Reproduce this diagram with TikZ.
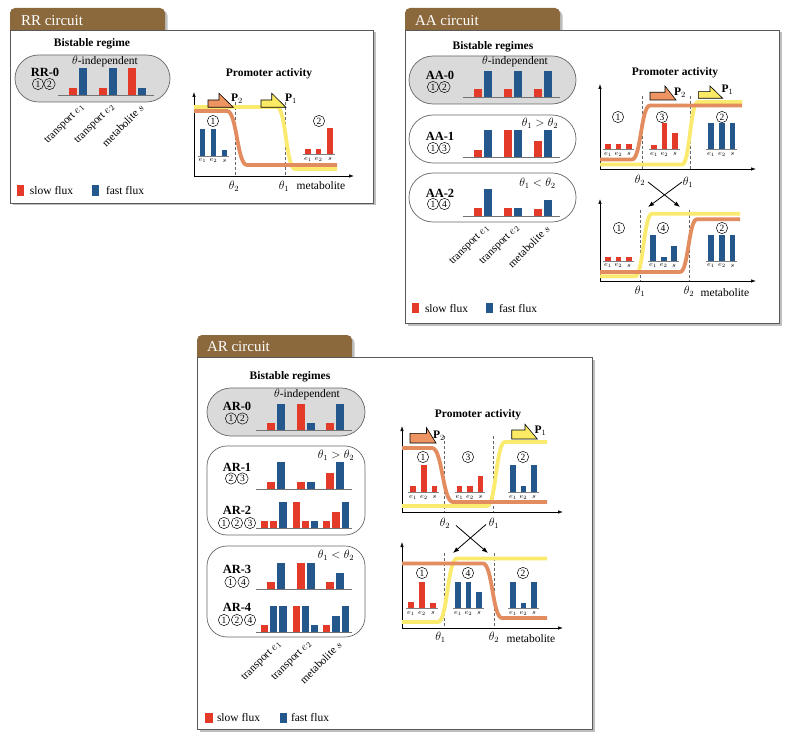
\documentclass[tikz,border=0pt]{standalone}
\usepackage{fontspec}
\setmainfont{Liberation Serif}
\usetikzlibrary{shadows,arrows.meta}
\definecolor{tabbrown}{RGB}{139,105,60}
\definecolor{barred}{RGB}{228,58,42}
\definecolor{barblue}{RGB}{36,88,140}
\definecolor{pillgray}{RGB}{218,218,218}
\definecolor{curveY}{RGB}{250,234,110}
\definecolor{curveO}{RGB}{226,140,96}
\definecolor{promO}{RGB}{238,148,98}
\definecolor{promY}{RGB}{250,234,100}
\tikzset{
 every node/.style={inner sep=0pt, outer sep=0pt},
 txt/.style={font=\fontsize{11.5}{13}\selectfont},
 btxt/.style={font=\fontsize{11.5}{13}\selectfont\bfseries},
 rtxt/.style={font=\fontsize{12.5}{14}\selectfont\bfseries},
 hdr/.style={font=\fontsize{15}{17}\selectfont, text=white, anchor=base west},
 cnum/.style={circle, draw, line width=0.5pt, minimum size=11.3pt, inner sep=0pt, font=\fontsize{9.5}{9.5}\selectfont},
 lbl/.style={font=\fontsize{7}{7}\selectfont},
 rot/.style={font=\fontsize{11}{12}\selectfont, rotate=45, anchor=east},
 shad/.style={drop shadow={shadow xshift=2.5pt, shadow yshift=-2.5pt, fill=black!55, opacity=0.45}},
 panel/.style={fill=white, draw=black!65, line width=0.8pt, shad},
 pill/.style={draw=black!60, line width=0.7pt},
 baseln/.style={draw=black!55, line width=0.6pt},
 pbase/.style={draw=black!50, line width=0.4pt},
 axis/.style={line width=0.7pt, -{Latex[length=5pt,width=3.5pt]}},
 dline/.style={dashed, dash pattern=on 3pt off 2pt, draw=black!60, line width=0.5pt},
 ycurve/.style={draw=curveY, line width=3.8pt},
 ocurve/.style={draw=curveO, line width=3.8pt},
 prom/.style={draw=black, line width=0.6pt},
 xarr/.style={line width=0.8pt, -{Latex[length=6pt,width=4.5pt]}},
}
\newcommand{\rb}[4]{\fill[barred] (#1,#3) rectangle (#2,#4);}
\newcommand{\bb}[4]{\fill[barblue] (#1,#3) rectangle (#2,#4);}
\newcommand{\plbl}[5]{\node[lbl] (#5a) at (#1,#4) {$e_1$}; \node[lbl] (#5b) at (#2,#4) {$e_2$}; \node[lbl] (#5c) at (#3,#4) {$s$};}
\begin{document}
\begin{tikzpicture}[x=1pt,y=-1pt]
\useasboundingbox (0,0) rectangle (793,746);
\fill[white] (0,0) rectangle (793,746);

% ================= RR circuit =================
\fill[tabbrown, shad] (10,30) [rounded corners=5pt] -- (10,8) -- (165,8) [sharp corners] -- (165,30) -- cycle;
\node[hdr] (rrT) at (21,25.5) {RR circuit};
\draw[panel] (10,30) rectangle (373,203);
\node[btxt] (rrBR) at (92,44) {Bistable regime};
\draw[pill, fill=pillgray, rounded corners=23.5] (15,55) rectangle (170,102);
\node[rtxt] (rr0) at (45,72) {RR-0};
\node[cnum] (rr0a) at (38,84) {1}; \node[cnum] (rr0b) at (49.5,84) {2};
\node[txt] (rrTI) at (105,61.5) {$\theta$-independent};
\draw[baseln] (58,95) -- (154,95);
\rb{69}{77}{88}{95} \bb{79}{87}{68}{95}
\rb{99}{107}{88}{95} \bb{109}{117}{68}{95}
\rb{128}{136}{68}{95} \bb{138}{146}{88}{95}
\node[rot] (rrL1) at (83,106) {transport $e_1$};
\node[rot] (rrL2) at (113,106) {transport $e_2$};
\node[rot] (rrL3) at (142,106) {metabolite $s$};
\fill[barred] (17,185) rectangle (24,196); \node[txt, anchor=west] (rrS) at (30,191) {slow flux};
\fill[barblue] (92,185) rectangle (99,196); \node[txt, anchor=west] (rrF) at (106,191) {fast flux};
% plot
\node[btxt] (rrPA) at (269,74) {Promoter activity};
\draw[dline] (235,102) -- (235,176); \draw[dline] (285,102) -- (285,176);
\draw[axis] (194,176) -- (194,92); \draw[axis] (194,176) -- (354,176);
\draw[ycurve] (194,107) -- (277,107) .. controls (286,107) and (286,169) .. (295,169) -- (337,169);
\draw[ocurve] (194,111) -- (227,111) .. controls (237,111) and (237,165) .. (247,165) -- (337,165);
\filldraw[prom, fill=promO] (208,100) -- (219,100) -- (219,93.3) -- (233.3,107.3) -- (208,107.3) -- cycle;
\node[btxt, anchor=west] (rrP2) at (231,98.5) {P$_2$};
\filldraw[prom, fill=promY] (261,100) -- (271.7,100) -- (271.7,93.3) -- (286,107.3) -- (261,107.3) -- cycle;
\node[btxt, anchor=west] (rrP1) at (285,98.5) {P$_1$};
\node[cnum] (rrS1) at (213,121) {1};
\bb{200}{205}{129}{156} \bb{211}{216}{129}{156} \bb{222}{227}{150}{156}
\draw[pbase] (198,156) -- (229,156);
\plbl{202.5}{213.5}{224.5}{160.5}{rrA}
\node[cnum] (rrS2) at (319,121) {2};
\rb{305.3}{310.7}{149}{154.3} \rb{316}{321.3}{149}{154.3} \rb{327.3}{332.7}{128.3}{154.3}
\draw[pbase] (303,154.3) -- (335,154.3);
\plbl{308}{318.7}{330}{159.3}{rrB}
\node[txt] (rrT2) at (234,186) {$\theta_2$};
\node[txt] (rrT1) at (284,186) {$\theta_1$};
\node[txt] (rrM) at (321,186) {metabolite};

% ================= AA circuit =================
\fill[tabbrown, shad] (405,30) [rounded corners=5pt] -- (405,8) -- (560,8) [sharp corners] -- (560,30) -- cycle;
\node[hdr] (aaT) at (415,25.5) {AA circuit};
\draw[panel] (405,30) rectangle (779,323);
\node[btxt] (aaBR) at (493,47) {Bistable regimes};
\draw[pill, fill=pillgray, rounded corners=24] (409,56) rectangle (576,104);
\node[rtxt] (aa0) at (440,75) {AA-0};
\node[cnum] (aa0a) at (433,87) {1}; \node[cnum] (aa0b) at (444.5,87) {2};
\node[txt] (aaTI) at (515,62) {$\theta$-independent};
\draw[baseln] (463,97) -- (560,97);
\rb{474}{482}{89}{97} \bb{484}{492}{71}{97}
\rb{504}{512}{89}{97} \bb{514}{522}{71}{97}
\rb{534}{542}{89}{97} \bb{544}{552}{71}{97}
\draw[pill, fill=white, rounded corners=24] (409,115) rectangle (576,163);
\node[rtxt] (aa1) at (440,136) {AA-1};
\node[cnum] (aa1a) at (433,148) {1}; \node[cnum] (aa1b) at (444.5,148) {3};
\node[txt] (aaC1) at (540,123) {$\theta_1 > \theta_2$};
\draw[baseln] (463,157) -- (560,157);
\rb{474}{482}{150}{157} \bb{484}{492}{130}{157}
\rb{504}{512}{130}{157} \bb{514}{522}{130}{157}
\rb{534}{542}{141}{157} \bb{544}{552}{130}{157}
\draw[pill, fill=white, rounded corners=24] (409,173) rectangle (576,222);
\node[rtxt] (aa2) at (440,193) {AA-2};
\node[cnum] (aa2a) at (433,204) {1}; \node[cnum] (aa2b) at (444.5,204) {4};
\node[txt] (aaC2) at (537.5,183) {$\theta_1 < \theta_2$};
\draw[baseln] (463,216) -- (560,216);
\rb{474}{482}{208}{216} \bb{484}{492}{189}{216}
\rb{504}{512}{208}{216} \bb{514}{522}{208}{216}
\rb{534}{542}{209}{216} \bb{544}{552}{200}{216}
\node[rot] (aaL1) at (488,227) {transport $e_1$};
\node[rot] (aaL2) at (518,227) {transport $e_2$};
\node[rot] (aaL3) at (548,227) {metabolite $s$};
\fill[barred] (412,303) rectangle (418.5,313.5); \node[txt, anchor=west] (aaS) at (425,308.5) {slow flux};
\fill[barblue] (486,303) rectangle (493,313.5); \node[txt, anchor=west] (aaF) at (499,308.5) {fast flux};
% plots
\node[btxt] (aaPA) at (675,73) {Promoter activity};
\draw[dline] (642,96) -- (642,169); \draw[dline] (690,96) -- (690,169);
\draw[axis] (600,169) -- (600,84); \draw[axis] (600,169) -- (756,169);
\draw[ycurve] (600,164.5) -- (682,164.5) .. controls (690,164.5) and (690,102) .. (698,102) -- (742,102);
\draw[ocurve] (600,159.5) -- (632,159.5) .. controls (641,159.5) and (641,105.5) .. (650,105.5) -- (742,105.5);
\filldraw[prom, fill=promO] (650,92.3) -- (665,92.3) -- (665,86) -- (676,100) -- (650,100) -- cycle;
\node[btxt, anchor=west] (aaP2) at (674,93) {P$_2$};
\filldraw[prom, fill=promY] (698.3,91.7) -- (710,91.7) -- (710,86) -- (722.7,98.3) -- (698.3,98.3) -- cycle;
\node[btxt, anchor=west] (aaP1) at (721.5,90) {P$_1$};
\node[cnum] (aaU1) at (618,117) {1};
\rb{605}{610.7}{144}{149} \rb{615.7}{621.3}{144}{149} \rb{626.3}{632}{144}{149}
\draw[pbase] (603,149) -- (634,149);
\plbl{608}{618.5}{629}{154}{aaUa}
\node[cnum] (aaU3) at (662,117) {3};
\rb{651}{656.7}{145}{149} \rb{661.7}{667.3}{123}{149} \rb{672.3}{678}{133}{149}
\draw[pbase] (649,149) -- (680,149);
\plbl{654}{664.5}{675}{154}{aaUb}
\node[cnum] (aaU2) at (722,117) {2};
\bb{708.3}{714}{123}{149} \bb{719}{724.7}{123}{149} \bb{729.7}{735.3}{123}{149}
\draw[pbase] (706,149) -- (737,149);
\plbl{711}{722}{732.5}{154}{aaUc}
\node[txt] (aaT2u) at (640,180) {$\theta_2$};
\node[txt] (aaT1u) at (688,182) {$\theta_1$};
\coordinate (aaA1) at (648,182); \coordinate (aaB1) at (680,207);
\coordinate (aaA2) at (682,182); \coordinate (aaB2) at (648,207);
\draw[xarr] (aaA1) -- (aaB1); \draw[xarr] (aaA2) -- (aaB2);
\draw[dline] (640,210) -- (640,281); \draw[dline] (689,210) -- (689,281);
\draw[axis] (600,281) -- (600,199); \draw[axis] (600,281) -- (756,281);
\draw[ycurve] (600,276.3) -- (635,276.3) .. controls (643.5,276.3) and (643.5,213.8) .. (652,213.8) -- (740,213.8);
\draw[ocurve] (600,272) -- (680,272) .. controls (688.5,272) and (688.5,219.3) .. (697,219.3) -- (740,219.3);
\node[cnum] (aaD1) at (619,228) {1};
\rb{605}{610.7}{256.7}{261} \rb{615.7}{621.3}{256.7}{261} \rb{626}{631.7}{256.7}{261}
\draw[pbase] (603,261) -- (634,261);
\plbl{608}{618.5}{629}{265.5}{aaDa}
\node[cnum] (aaD4) at (663,228) {4};
\bb{650}{656}{235}{261} \bb{661}{666.5}{256.7}{261} \bb{671}{677}{246}{261}
\draw[pbase] (648,261) -- (679,261);
\plbl{653}{663.7}{674}{265.5}{aaDb}
\node[cnum] (aaD2) at (722,228) {2};
\bb{708.3}{714}{235}{261} \bb{719}{724.7}{235}{261} \bb{729.7}{735.3}{235}{261}
\draw[pbase] (706,261) -- (737,261);
\plbl{711}{722}{732.5}{265.5}{aaDc}
\node[txt] (aaT1d) at (640,291) {$\theta_1$};
\node[txt] (aaT2d) at (689,291) {$\theta_2$};
\node[txt] (aaM) at (725,293) {metabolite};

% ================= AR circuit =================
\fill[tabbrown, shad] (197,357) [rounded corners=5pt] -- (197,335) -- (352,335) [sharp corners] -- (352,357) -- cycle;
\node[hdr] (arT) at (207,352) {AR circuit};
\draw[panel] (197,357) rectangle (592,729);
\node[btxt] (arBR) at (290,377) {Bistable regimes};
\draw[pill, fill=pillgray, rounded corners=24] (207,388) rectangle (365,436);
\node[rtxt] (ar0) at (237,406) {AR-0};
\node[cnum] (ar0a) at (231,418.5) {1}; \node[cnum] (ar0b) at (242.5,418.5) {2};
\node[txt] (arTI) at (307,395) {$\theta$-independent};
\draw[baseln] (256,430) -- (352,430);
\rb{267}{274.5}{423}{430} \bb{277}{284.5}{404}{430}
\rb{297}{304.5}{404}{430} \bb{307}{314.5}{423}{430}
\rb{326}{333.5}{423}{430} \bb{336}{343.5}{404}{430}
\draw[pill, fill=white, rounded corners=20] (207,446) rectangle (365,535);
\node[txt] (arC1) at (336,455) {$\theta_1 > \theta_2$};
\node[rtxt] (ar1) at (237,467) {AR-1};
\node[cnum] (ar1a) at (231,478.5) {2}; \node[cnum] (ar1b) at (242.5,478.5) {3};
\draw[baseln] (256,489) -- (352,489);
\rb{267}{274.5}{482}{489} \bb{277}{284.5}{462}{489}
\rb{297}{304.5}{482}{489} \bb{307}{314.5}{482}{489}
\rb{326}{333.5}{473}{489} \bb{336}{343.5}{462}{489}
\node[rtxt] (ar2) at (237,510) {AR-2};
\node[cnum] (ar2a) at (224,523) {1}; \node[cnum] (ar2b) at (237,523) {2}; \node[cnum] (ar2c) at (250,523) {3};
\draw[baseln] (256,528) -- (352,528);
\rb{261}{268}{521}{528} \rb{270}{277}{521}{528} \bb{279.3}{286.7}{502}{528}
\rb{292.7}{300}{502}{528} \rb{301.7}{309}{521}{528} \bb{310.7}{318}{521}{528}
\rb{322.7}{330}{521}{528} \rb{332.3}{339.7}{512}{528} \bb{341.7}{349}{502}{528}
\draw[pill, fill=white, rounded corners=20] (207,546) rectangle (365,637);
\node[txt] (arC2) at (336,555) {$\theta_1 < \theta_2$};
\node[rtxt] (ar3) at (237,569) {AR-3};
\node[cnum] (ar3a) at (230.5,582) {1}; \node[cnum] (ar3b) at (243.5,582) {4};
\draw[baseln] (256,589) -- (352,589);
\rb{267}{274.5}{582}{589} \bb{277}{284.5}{563}{589}
\rb{297}{304.5}{563}{589} \bb{307}{314.5}{563}{589}
\rb{326}{333.5}{582}{589} \bb{336}{343.5}{573}{589}
\node[rtxt] (ar4) at (237,607) {AR-4};
\node[cnum] (ar4a) at (224,620) {1}; \node[cnum] (ar4b) at (237,620) {2}; \node[cnum] (ar4c) at (250,620) {4};
\draw[baseln] (256,632) -- (352,632);
\rb{261}{268}{625}{632} \bb{270}{277}{606}{632} \bb{279.3}{286.7}{606}{632}
\rb{292.7}{300}{606}{632} \bb{301.7}{309}{606}{632} \bb{310.7}{318}{625}{632}
\rb{322.7}{330}{625}{632} \bb{332.3}{339.7}{616}{632} \bb{341.7}{349}{606}{632}
\node[rot] (arL1) at (280,643) {transport $e_1$};
\node[rot] (arL2) at (310,643) {transport $e_2$};
\node[rot] (arL3) at (340,643) {metabolite $s$};
\fill[barred] (205,713) rectangle (212.5,723); \node[txt, anchor=west] (arS) at (217,718) {slow flux};
\fill[barblue] (280,713) rectangle (287,723); \node[txt, anchor=west] (arF) at (291,718) {fast flux};
% plots
\node[btxt] (arPA) at (478,415) {Promoter activity};
\draw[dline] (444,436) -- (444,512); \draw[dline] (493,436) -- (493,512);
\draw[axis] (402,512) -- (402,426); \draw[axis] (402,512) -- (563,512);
\draw[ycurve] (402,506) -- (487,506) .. controls (496,506) and (496,442) .. (505,442) -- (547,442);
\draw[ocurve] (402,448) -- (432,448) .. controls (442.5,448) and (442.5,502) .. (453,502) -- (547,502);
\filldraw[prom, fill=promO] (410,433.3) -- (426.5,433.3) -- (426.5,427.7) -- (436,443) -- (410,443) -- cycle;
\node[btxt, anchor=west] (arP2) at (433,436) {P$_2$};
\filldraw[prom, fill=promY] (511.7,430) -- (525,430) -- (525,424.3) -- (537.3,439) -- (511.7,439) -- cycle;
\node[btxt, anchor=west] (arP1) at (534.5,431) {P$_1$};
\node[cnum] (arU1) at (423,457) {1};
\rb{410}{415.7}{486}{492} \rb{421}{426.7}{465}{492} \rb{431.7}{437.3}{486}{492}
\draw[pbase] (408,492) -- (439,492);
\plbl{413}{424}{434.5}{497}{arUa}
\node[cnum] (arU3) at (468,457) {3};
\rb{456.7}{462.3}{486}{492} \rb{467.3}{473}{486}{492} \rb{477.7}{483.3}{476}{492}
\draw[pbase] (455,492) -- (485,492);
\plbl{459.5}{470}{480.5}{497}{arUb}
\node[cnum] (arU2) at (523,457) {2};
\bb{510}{515.7}{465}{492} \bb{520.7}{526.3}{486}{492} \bb{531}{536.7}{465}{492}
\draw[pbase] (508,492) -- (539,492);
\plbl{513}{523.5}{534}{497}{arUc}
\node[txt] (arT2u) at (445,523) {$\theta_2$};
\node[txt] (arT1u) at (494,523) {$\theta_1$};
\coordinate (arA1) at (456,525.5); \coordinate (arB1) at (488,553);
\coordinate (arA2) at (486,524.5); \coordinate (arB2) at (453,553);
\draw[xarr] (arA1) -- (arB1); \draw[xarr] (arA2) -- (arB2);
\draw[dline] (444,553) -- (444,628); \draw[dline] (494,553) -- (494,628);
\draw[axis] (402,628) -- (402,542); \draw[axis] (402,628) -- (563,628);
\draw[ycurve] (402,622) -- (438,622) .. controls (447.5,622) and (447.5,558.5) .. (457,558.5) -- (547,558.5);
\draw[ocurve] (402,563.5) -- (483,563.5) .. controls (492.5,563.5) and (492.5,618) .. (502,618) -- (547,618);
\node[cnum] (arD1) at (422,573) {1};
\rb{408.3}{414}{601.7}{608.3} \rb{419.3}{425}{581.7}{608.3} \rb{430}{435.7}{603.3}{608.3}
\draw[pbase] (406,608.3) -- (438,608.3);
\plbl{411}{422}{433}{613.3}{arDa}
\node[cnum] (arD4) at (468,573) {4};
\bb{455}{460.7}{581.7}{608.3} \bb{465.7}{471.3}{581.7}{608.3} \bb{476.3}{482}{591.7}{608.3}
\draw[pbase] (453,608.3) -- (484,608.3);
\plbl{458}{468.5}{479}{613.3}{arDb}
\node[cnum] (arD2) at (523,573) {2};
\bb{510}{515.7}{581.7}{608.3} \bb{520.7}{526.3}{602.7}{608.3} \bb{531}{536.7}{581.7}{608.3}
\draw[pbase] (508,608.3) -- (539,608.3);
\plbl{513}{523.5}{534}{613.3}{arDc}
\node[txt] (arT1d) at (440.5,637) {$\theta_1$};
\node[txt] (arT2d) at (494,637) {$\theta_2$};
\node[txt] (arM) at (531,639) {metabolite};
\end{tikzpicture}
\end{document}
